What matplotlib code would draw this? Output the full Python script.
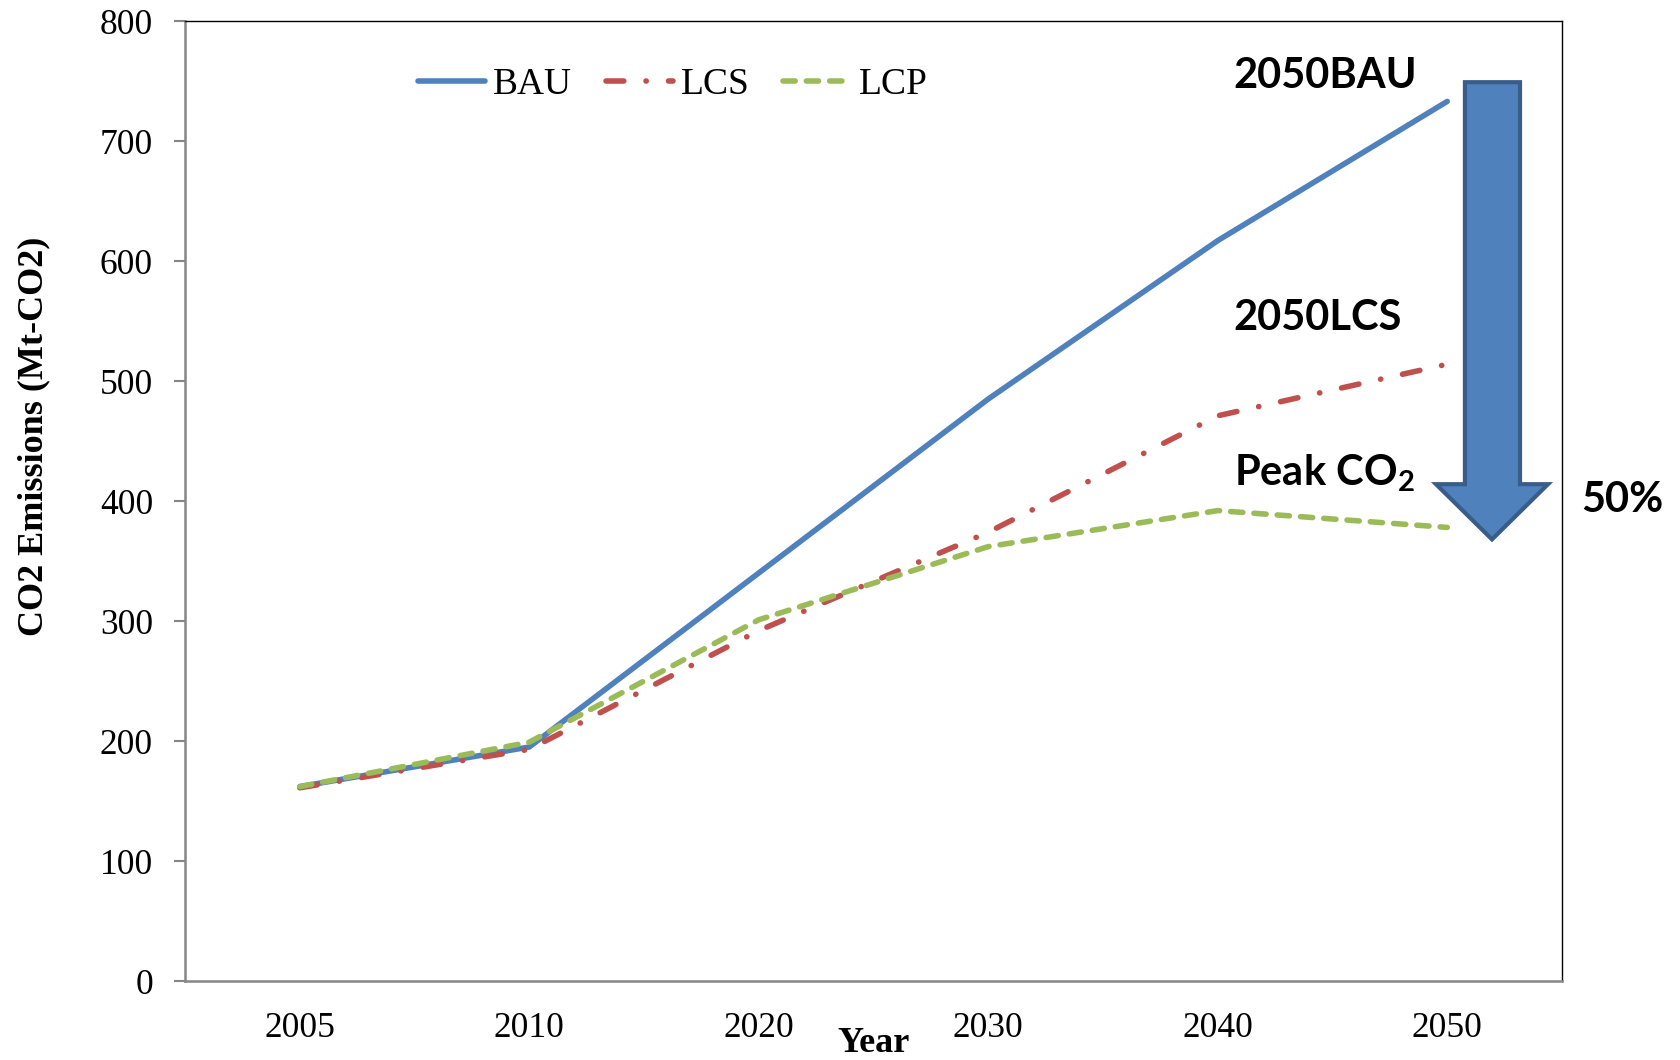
import matplotlib
matplotlib.use("Agg")
import matplotlib.pyplot as plt
from matplotlib.patches import Polygon

# Emission pathways (Mt-CO2)
years = ["2005", "2010", "2020", "2030", "2040", "2050"]
bau = [162, 195, 340, 485, 617, 733]
lcs = [161, 193, 292, 374, 471, 514]
lcp = [162, 199, 301, 362, 392, 378]

yticks = [0, 100, 200, 300, 400, 500, 600, 700, 800]

plt.rcParams["mathtext.default"] = "regular"

serif = "Liberation Serif"
sans = "Lato"

fig = plt.figure(figsize=(16.81, 10.60), dpi=100)
ax = fig.add_axes([185 / 1681, 1 - 981 / 1060, 1377 / 1681, 960 / 1060])

x = list(range(len(years)))
lw = 4.0
ax.plot(x, bau, color="#4F81BD", lw=lw, solid_capstyle="round",
        solid_joinstyle="round", label="BAU", zorder=3)
ax.plot(x, lcs, color="#C0504D", lw=lw, dash_capstyle="round",
        dashes=(3.2, 4.0, 0.05, 4.0), label="LCS", zorder=4)
ax.plot(x, lcp, color="#9BBB59", lw=lw, dash_capstyle="round",
        dashes=(2.2, 2.0), label="LCP", zorder=5)

ax.set_xlim(-0.5, len(years) - 0.5)
ax.set_ylim(0, 800)
ax.set_xticks(x)
ax.set_xticklabels(years, fontfamily=serif, fontsize=25.5)
ax.set_yticks(yticks)
ax.set_yticklabels([str(v) for v in yticks], fontfamily=serif, fontsize=25.5)
ax.tick_params(axis="x", length=0, pad=22)
ax.tick_params(axis="y", direction="out", length=8, width=1.5,
               color="#868686", pad=15)

for side in ("left", "bottom"):
    ax.spines[side].set_color("#868686")
    ax.spines[side].set_linewidth(1.8)
for side in ("top", "right"):
    ax.spines[side].set_color("black")
    ax.spines[side].set_linewidth(1.0)

ax.set_xlabel("Year", fontfamily=serif, fontsize=26, fontweight="bold")
ax.xaxis.set_label_coords(0.5, -0.0655)
ax.xaxis.label.set_va("center")
ax.set_ylabel("CO2 Emissions (Mt-CO2)", fontfamily=serif, fontsize=26,
              fontweight="bold")
ax.yaxis.set_label_coords(-0.1097, 0.567)
ax.yaxis.label.set_va("center")

leg = fig.legend(loc="center left", bbox_to_anchor=(418 / 1681, 1 - 85 / 1060),
                 ncol=3, frameon=False, borderpad=0, borderaxespad=0,
                 handlelength=1.8, handletextpad=0.2, columnspacing=0.9,
                 prop={"family": serif, "size": 27})

# Reduction arrow from 2050 BAU down to the low-carbon pathway
arrow = Polygon([(5.077, 749), (5.317, 749), (5.317, 414), (5.439, 414),
                 (5.195, 368), (4.951, 414), (5.077, 414)],
                closed=True, facecolor="#4F81BD", edgecolor="#385D8A",
                linewidth=3, joinstyle="miter", clip_on=False, zorder=6)
ax.add_patch(arrow)

note = dict(fontfamily=sans, fontsize=30, fontweight="bold", color="black",
            va="baseline", ha="left", clip_on=False, zorder=7)
ax.text(4.07, 744, "2050BAU", **note)
ax.text(4.07, 542.5, "2050LCS", **note)
ax.text(4.07, 413, "Peak CO$_2$", **note)
ax.text(5.585, 391, "50%", **note)

fig.savefig("out.png", dpi=100)
